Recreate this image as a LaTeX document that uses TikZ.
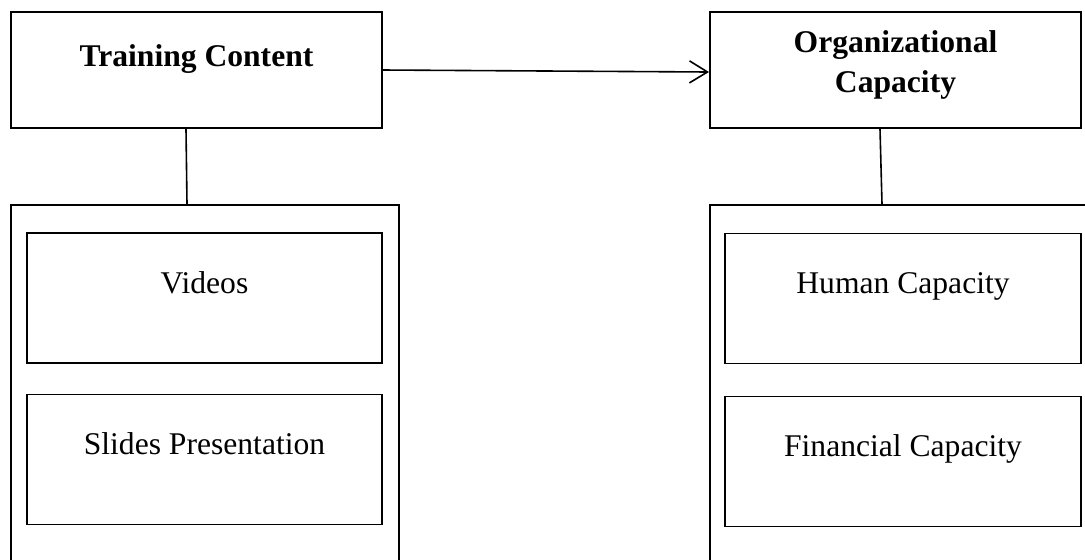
\documentclass[tikz,border=0pt]{standalone}
\usepackage{fontspec}
\setmainfont{Liberation Serif}
\usetikzlibrary{arrows.meta}
\newcommand{\myfont}{\fontsize{15.8}{20}\selectfont}
\tikzset{
    node style top/.style={draw,rectangle,line width=1pt,inner sep=0pt,minimum width=185.5pt,minimum height=58pt,font=\myfont\bfseries},
    node style item/.style={draw,rectangle,line width=0.9pt,inner sep=0pt,minimum width=178pt,text height=30pt,text depth=35pt,font=\myfont},
    node style group/.style={draw,rectangle,line width=0.9pt,minimum width=194pt,minimum height=200pt,anchor=north},
    arrow style link/.style={line width=0.8pt},
}
\begin{document}
\begin{tikzpicture}[x=0.5pt,y=-0.5pt,>={Straight Barb[length=9pt,width=11pt]}]
\useasboundingbox (0,0) rectangle (1085,559);
\clip (0,0) rectangle (1085,559);
% top boxes
\node [node style top,text height=27pt,text depth=31pt] (tc) at (196.5,70) {Training Content};
\node [node style top,align=center,text height=40pt,text depth=18pt] (oc) at (895.5,70) {Organizational\\Capacity};
% groups
\node [node style group] (leftgrp) at (205,204) {};
\node [node style group] (rightgrp) at (904,204) {};
% items
\node [node style item,minimum width=177.5pt] (vid) at (204.5,298) {Videos};
\node [node style item,minimum width=177.5pt] (slides) at (204.5,459.5) {Slides Presentation};
\node [node style item] (human) at (903,298.5) {Human Capacity};
\node [node style item] (fin) at (903,461.5) {Financial Capacity};
% connectors
\draw [arrow style link,->] (tc.east) -- ([yshift=-1pt]oc.west);
\draw [arrow style link] ([xshift=-5.25pt]tc.south) -- ([xshift=-4.75pt]tc.south |- leftgrp.north);
\draw [arrow style link] ([xshift=-7.75pt]oc.south) -- ([xshift=-6.75pt]oc.south |- rightgrp.north);
\end{tikzpicture}
\end{document}
